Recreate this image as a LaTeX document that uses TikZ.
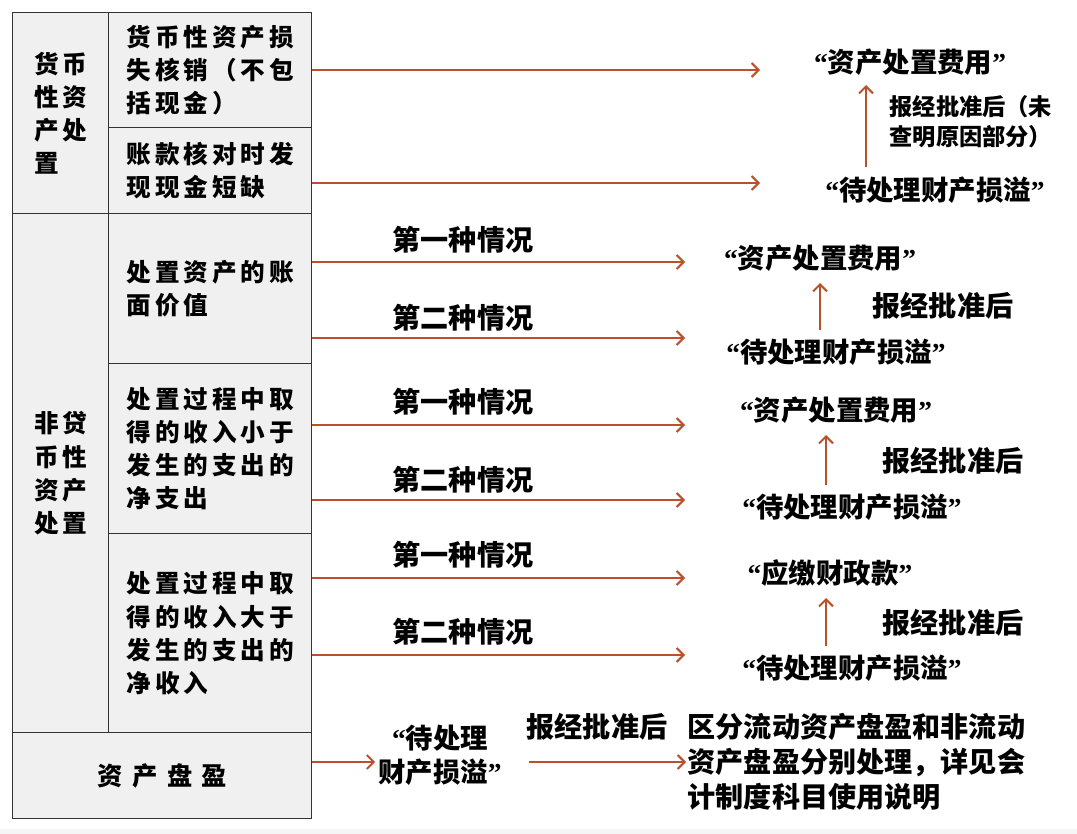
\documentclass[tikz,border=0pt]{standalone}
\usepackage{fontspec}
\setmainfont{Noto Sans CJK SC}
\newfontfamily\cellfont[LetterSpace=16]{Noto Sans CJK SC}
\newfontfamily\widefont[LetterSpace=38]{Noto Sans CJK SC}
\newfontfamily\quotefont{Liberation Serif}
\usetikzlibrary{arrows.meta, positioning}

\definecolor{flowred}{HTML}{B9522C}
\definecolor{cellgray}{HTML}{F0F0F0}
\definecolor{rulegray}{HTML}{333333}

\newcommand{\pxu}{0.025cm}
\newcommand{\oq}{{\quotefont\bfseries “}}
\newcommand{\cq}{{\quotefont\bfseries ”}}
\newcommand{\acq}[1]{\oq#1\cq}

\begin{document}
\begin{tikzpicture}[
    x=0.025cm, y=-0.025cm,
    cell/.style={draw=rulegray, line width=1pt, fill=cellgray, anchor=north west, inner sep=0pt, align=left, font=\cellfont\bfseries\fontsize{17.5}{23.5}\selectfont},
    flow/.style={-{Straight Barb[length=5pt,width=10pt]}, line width=1.4pt, draw=flowred},
    acct/.style={font=\bfseries\fontsize{19.5}{24}\selectfont, inner sep=2pt, align=center},
    case/.style={font=\bfseries\fontsize{20}{24}\selectfont, inner sep=1pt},
    note/.style={font=\bfseries\fontsize{20}{25}\selectfont, inner sep=1pt, align=left}
]
\useasboundingbox (0,0) rectangle (1077,834);
\fill[gray!8] (0,829) rectangle (1077,834);

% === LEFT TABLE ===
\node[cell, minimum width=96*\pxu, minimum height=201*\pxu] (grpA) at (12,12) {货币\\性资\\产处\\置};
\node[cell, minimum width=203*\pxu, minimum height=115*\pxu] (a1) at (108,12) {货币性资产损\\失核销（不包\\括现金）};
\node[cell, minimum width=203*\pxu, minimum height=86*\pxu] (a2) at (108,127) {账款核对时发\\现现金短缺};
\node[cell, minimum width=96*\pxu, minimum height=519*\pxu] (grpB) at (12,213) {非贷\\币性\\资产\\处置};
\node[cell, minimum width=203*\pxu, minimum height=150*\pxu] (b1) at (108,213) {处置资产的账\\面价值};
\node[cell, minimum width=203*\pxu, minimum height=170*\pxu] (b2) at (108,363) {处置过程中取\\得的收入小于\\发生的支出的\\净支出};
\node[cell, minimum width=203*\pxu, minimum height=199*\pxu] (b3) at (108,533) {处置过程中取\\得的收入大于\\发生的支出的\\净收入};
\node[cell, minimum width=299*\pxu, minimum height=86*\pxu, font=\widefont\bfseries\fontsize{18}{23.5}\selectfont] (c) at (12,732) {资产盘盈};

% === TARGET ACCOUNTS ===
\node[acct] (t1) at (910,62) {\acq{资产处置费用}};
\node[acct] (t2) at (935,190) {\acq{待处理财产损溢}};
\node[acct] (t3) at (820,258) {\acq{资产处置费用}};
\node[acct] (t4) at (836,352) {\acq{待处理财产损溢}};
\node[acct] (t5) at (836,410) {\acq{资产处置费用}};
\node[acct] (t6) at (852,507) {\acq{待处理财产损溢}};
\node[acct] (t7) at (830,573) {\acq{应缴财政款}};
\node[acct] (t8) at (852,668) {\acq{待处理财产损溢}};

% === CASE LABELS ===
\foreach \n/\y in {1/240, 3/402, 5/555}
    \node[case] (k\n) at (463,\y) {第一种情况};
\foreach \n/\y in {2/318, 4/480, 6/632}
    \node[case] (k\n) at (463,\y) {第二种情况};

% === HORIZONTAL ARROWS ===
\coordinate (e1) at (760,70);
\coordinate (e2) at (760,183);
\coordinate (e3) at (685,262);
\coordinate (e4) at (685,338);
\coordinate (e5) at (685,425);
\coordinate (e6) at (685,500);
\coordinate (e7) at (685,578);
\coordinate (e8) at (685,655);
\foreach \src/\e in {a1/e1, a2/e2, b1/e3, b1/e4, b2/e5, b2/e6, b3/e7, b3/e8}
    \draw[flow] (\src.east |- \e) -- (\e);

% === APPROVAL ARROWS ===
\coordinate (v1) at (866,85);
\coordinate (v2) at (820,283);
\coordinate (v3) at (826,435);
\coordinate (v4) at (826,598);
\draw[flow, shorten <=5pt] (t2.north -| v1) -- (v1);
\draw[flow, shorten <=4pt] (t4.north -| v2) -- (v2);
\draw[flow, shorten <=4pt] (t6.north -| v3) -- (v3);
\draw[flow, shorten <=4pt] (t8.north -| v4) -- (v4);

\node[note, anchor=west, font=\bfseries\fontsize{16.5}{21.5}\selectfont] (n1) at (888,122) {报经批准后（未\\查明原因部分）};
\node[note] (n2) at (943,306) {报经批准后};
\node[note] (n3) at (953,461) {报经批准后};
\node[note] (n4) at (953,623) {报经批准后};

% === ASSET SURPLUS ===
\node[acct, font=\bfseries\fontsize{19.5}{24}\selectfont] (p1) at (440,755) {\oq 待处理\\财产损溢\cq};
\node[note, anchor=west] (p3) at (686,762) {区分流动资产盘盈和非流动\\资产盘盈分别处理，详见会\\计制度科目使用说明};
\node[note] (p2) at (597,727) {报经批准后};
\coordinate (m1) at ([xshift=17pt]p1.east);
\draw[flow] (c.east |- p3.west) -- (p1.west |- p3.west);
\draw[flow] (m1 |- p3.west) -- (p3.west);

\end{tikzpicture}
\end{document}
